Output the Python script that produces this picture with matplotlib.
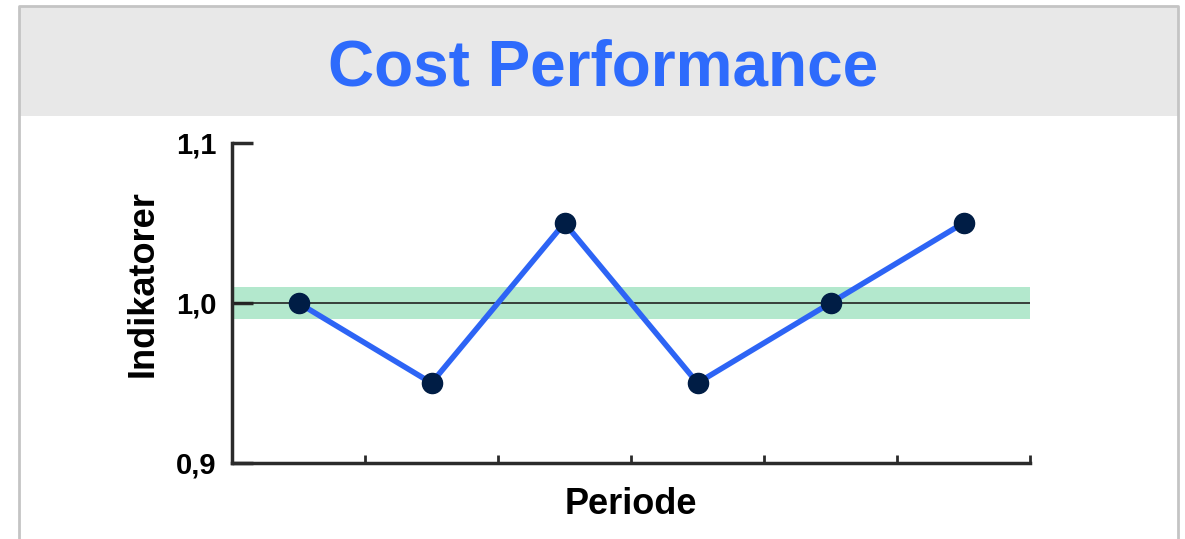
import numpy as np
import matplotlib
matplotlib.use("Agg")
import matplotlib.pyplot as plt
from matplotlib.patches import Rectangle
from matplotlib.lines import Line2D

# cost performance index per period
periods = [1, 2, 3, 4, 5, 6]
cpi = [1.00, 0.95, 1.05, 0.95, 1.00, 1.05]
target = 1.0
tolerance = 0.01
y_ticks = [0.9, 1.0, 1.1]
y_labels = ["0,9", "1,0", "1,1"]

plt.rcParams['font.family'] = ['Liberation Sans', 'DejaVu Sans']

W, H = 1185, 539
fig = plt.figure(figsize=(W / 100, H / 100), dpi=100)
fig.patch.set_facecolor("white")

# header band and frame
def px(x, y):
    return x / W, 1 - y / H

x0, y0 = px(19, 116)
x1, y1 = px(1178, 6)
fig.patches.append(Rectangle((x0, y0), x1 - x0, y1 - y0, transform=fig.transFigure,
                             facecolor="#e8e8e8", edgecolor="none", zorder=0))
frame_c = "#c4c4c4"
fig.lines.append(Line2D([x0, x0, x1, x1], [0, y1, y1, 0], transform=fig.transFigure,
                        color=frame_c, lw=2))
fig.text(603 / W, 1 - 86 / H, "Cost Performance", ha="center", va="baseline",
         fontsize=46, fontweight="bold", color="#2e6bfc")

ax = fig.add_axes([232 / W, 76 / H, (1030 - 232) / W, 320 / H])
x = np.arange(len(periods))
ax.axhspan(target - tolerance, target + tolerance, color="#b3e8cd", lw=0, zorder=1)
ax.axhline(target, color="#222222", lw=1.2, zorder=2)
ax.plot(x, cpi, color="#2d64f5", lw=4, zorder=3)
ax.plot(x, cpi, "o", color="#001d45", ms=14.5, zorder=4)

ax.set_xlim(-0.5, len(periods) - 0.5)
ax.set_ylim(0.9, 1.1)
ax.set_xticks(x[:-1] + 0.5)
ax.set_xticks([len(periods) - 0.5], minor=True)
ax.set_xticklabels([])
ax.set_yticks(y_ticks)
ax.set_yticklabels(y_labels, fontsize=21, fontweight="bold")

for s in ["top", "right"]:
    ax.spines[s].set_visible(False)
for s in ["left", "bottom"]:
    ax.spines[s].set_color("#2b2b2b")
    ax.spines[s].set_linewidth(2.5)
ax.tick_params(axis="y", direction="in", length=15, width=2.5, color="#2b2b2b", pad=11)
ax.tick_params(axis="x", which="both", direction="in", length=6, width=2, color="#2b2b2b")

ax.set_xlabel("Periode", fontsize=26, fontweight="bold", labelpad=14)
ax.set_ylabel("Indikatorer", fontsize=26, fontweight="bold")
ax.yaxis.set_label_coords(-0.089, 0.56)

fig.savefig("out.png", dpi=100)
